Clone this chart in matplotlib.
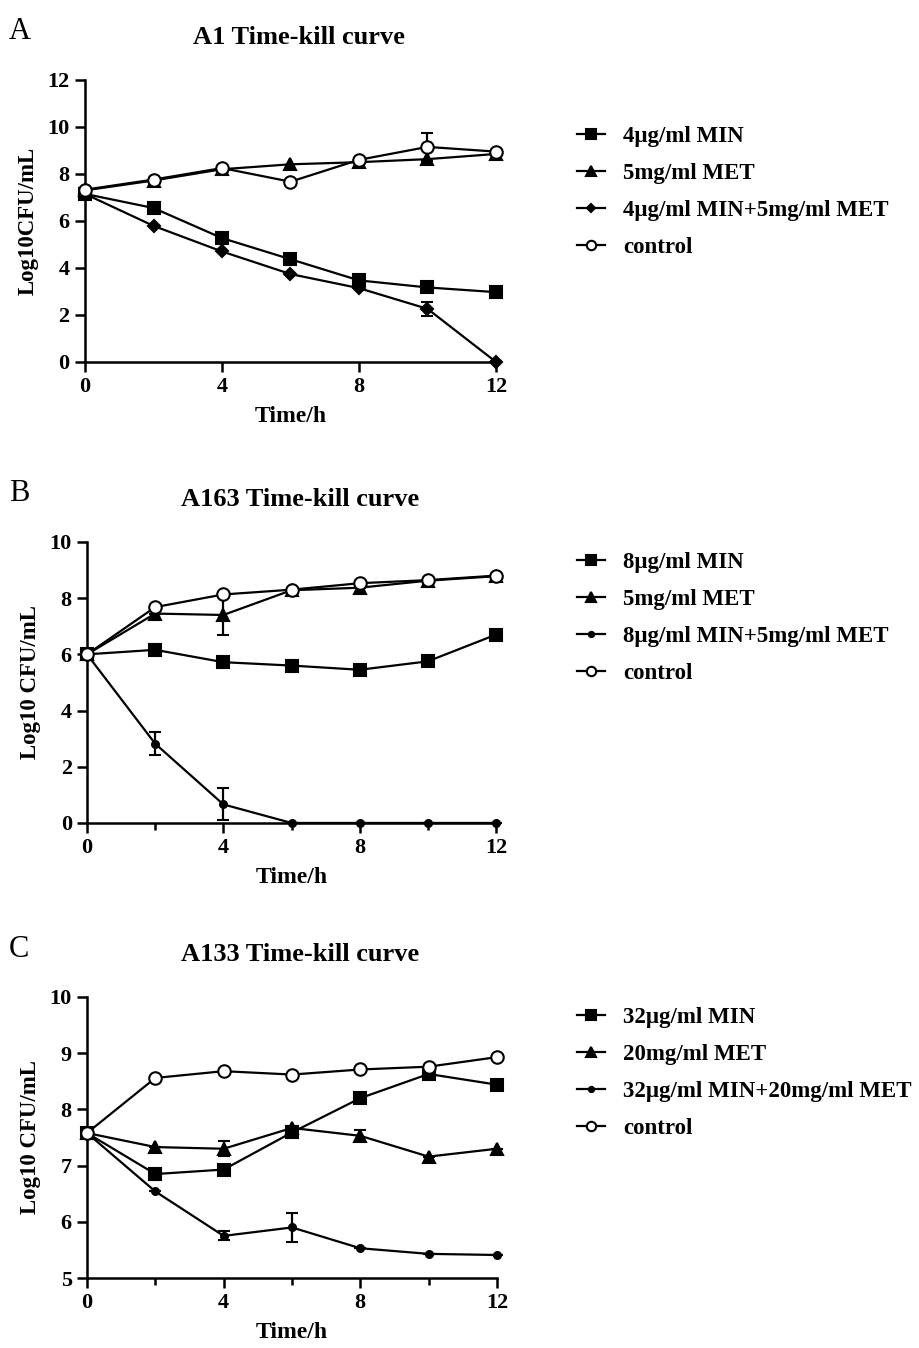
import matplotlib.pyplot as plt
from matplotlib.lines import Line2D
from matplotlib.ticker import MultipleLocator

plt.rcParams['font.family'] = ['Liberation Serif', 'DejaVu Serif']
plt.rcParams['font.weight'] = 'bold'

time_h = [0, 2, 4, 6, 8, 10, 12]

# panel A: strain A1
a_min = [7.15, 6.55, 5.27, 4.37, 3.47, 3.17, 2.97]
a_met = [7.3, 7.72, 8.2, 8.41, 8.5, 8.63, 8.85]
a_combo = [7.15, 5.79, 4.7, 3.74, 3.14, 2.26, 0.0]
a_combo_err = [0, 0, 0, 0, 0, 0.3, 0]
a_ctrl = [7.33, 7.76, 8.25, 7.67, 8.6, 9.15, 8.95]
a_ctrl_err = [0, 0, 0, 0, 0, 0.6, 0]

# panel B: strain A163
b_min = [6.0, 6.16, 5.72, 5.6, 5.45, 5.75, 6.7]
b_met = [6.0, 7.45, 7.4, 8.28, 8.37, 8.62, 8.78]
b_met_err = [0, 0, 0.7, 0, 0, 0, 0]
b_combo = [6.0, 2.82, 0.66, 0.0, 0.0, 0.0, 0.0]
b_combo_err = [0, 0.41, 0.57, 0, 0, 0, 0]
b_ctrl = [6.0, 7.68, 8.13, 8.3, 8.53, 8.64, 8.8]

# panel C: strain A133
c_min = [7.58, 6.85, 6.93, 7.59, 8.2, 8.63, 8.44]
c_met = [7.58, 7.33, 7.3, 7.67, 7.53, 7.16, 7.3]
c_met_err = [0, 0, 0.13, 0, 0.1, 0, 0]
c_combo = [7.58, 6.54, 5.75, 5.9, 5.53, 5.43, 5.41]
c_combo_err = [0, 0, 0.08, 0.26, 0, 0, 0]
c_ctrl = [7.58, 8.56, 8.68, 8.62, 8.71, 8.76, 8.93]

panels = [
    dict(letter='A', title='A1 Time-kill curve', ylabel='Log10CFU/mL',
         ylim=(0, 12), yticks=range(0, 13, 2), minor=False,
         rect=[0.0925, 0.7315, 0.4472, 0.2092], leg_y=0.9065,
         series=[(a_min, None, 's', 9, 'k', '4μg/ml MIN'),
                 (a_met, None, '^', 9, 'k', '5mg/ml MET'),
                 (a_combo, a_combo_err, 'D', 6, 'k', '4μg/ml MIN+5mg/ml MET'),
                 (a_ctrl, a_ctrl_err, 'o', 9, 'w', 'control')]),
    dict(letter='B', title='A163 Time-kill curve', ylabel='Log10 CFU/mL',
         ylim=(0, 10), yticks=range(0, 11, 2), minor=True,
         rect=[0.0947, 0.3895, 0.445, 0.2085], leg_y=0.5905,
         series=[(b_min, None, 's', 9, 'k', '8μg/ml MIN'),
                 (b_met, b_met_err, '^', 9, 'k', '5mg/ml MET'),
                 (b_combo, b_combo_err, 'o', 5, 'k', '8μg/ml MIN+5mg/ml MET'),
                 (b_ctrl, None, 'o', 9, 'w', 'control')]),
    dict(letter='C', title='A133 Time-kill curve', ylabel='Log10 CFU/mL',
         ylim=(5, 10), yticks=range(5, 11), minor=True,
         rect=[0.0947, 0.0519, 0.446, 0.2085], leg_y=0.2530,
         series=[(c_min, None, 's', 9, 'k', '32μg/ml MIN'),
                 (c_met, c_met_err, '^', 9, 'k', '20mg/ml MET'),
                 (c_combo, c_combo_err, 'o', 5, 'k', '32μg/ml MIN+20mg/ml MET'),
                 (c_ctrl, None, 'o', 9, 'w', 'control')]),
]

fig = plt.figure(figsize=(9.19, 13.48), dpi=100)

for p in panels:
    ax = fig.add_axes(p['rect'])
    handles = []
    for vals, err, mk, ms, fc, lab in p['series']:
        ax.errorbar(time_h, vals, yerr=err, color='k', lw=1.6, marker=mk, ms=ms,
                    mfc=fc, mec='k', mew=1.5, capsize=4, elinewidth=1.6,
                    capthick=1.6, clip_on=False, zorder=3)
        handles.append(Line2D([], [], color='k', lw=1.6, marker=mk, ms=ms * 0.75,
                              mfc=fc, mec='k', mew=1.5, label=lab))
    ax.set_xlim(0, 12)
    ax.set_ylim(*p['ylim'])
    ax.set_xticks([0, 4, 8, 12])
    if p['minor']:
        ax.xaxis.set_minor_locator(MultipleLocator(2))
    ax.set_yticks(list(p['yticks']))
    for s in ['top', 'right']:
        ax.spines[s].set_visible(False)
    for s in ['left', 'bottom']:
        ax.spines[s].set_linewidth(1.8)
    ax.tick_params(which='major', width=1.8, length=7, labelsize=16, pad=4)
    ax.tick_params(which='minor', width=1.8, length=5)
    ax.set_xlabel('Time/h', fontsize=17, fontweight='bold', labelpad=6)
    ax.set_ylabel(p['ylabel'], fontsize=16.5, fontweight='bold', labelpad=6)
    ax.set_title(p['title'], fontsize=19, fontweight='bold', pad=26, x=0.52)
    bb = ax.get_position()
    fig.text(0.01, bb.y1 + 0.03, p['letter'], fontsize=22, fontweight='normal')
    fig.legend(handles=handles, loc='upper left', bbox_to_anchor=(0.628, p['leg_y']),
               frameon=False, fontsize=16.5, handlelength=1.22, handletextpad=0.8,
               labelspacing=0.69, borderpad=0, borderaxespad=0)

fig.savefig('out.png', dpi=100)
